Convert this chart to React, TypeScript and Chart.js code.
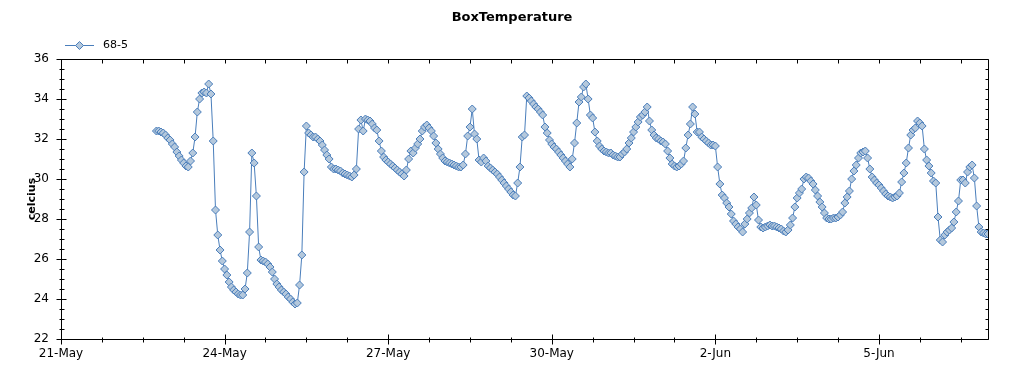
import React, { useEffect, useRef } from 'react';
import { Chart, registerables } from 'chart.js';

Chart.register(...registerables);

// ---------- text ----------
const TITLE = 'BoxTemperature';
const SERIES_NAME = '68-5';
const Y_TITLE = 'celcius';
const MONTHS = ['Jan', 'Feb', 'Mar', 'Apr', 'May', 'Jun', 'Jul', 'Aug', 'Sep', 'Oct', 'Nov', 'Dec'];

// ---------- axes ----------
const HOUR = 3600000;
const DAY = 24 * HOUR;
const AXIS_START = Date.UTC(2013, 4, 21);
const AXIS_END = Date.UTC(2013, 5, 7);
const MAJOR_TICK_DAYS = [0, 3, 6, 9, 12, 15];
const MINOR_TICK_HOURS = 18;
const Y_MIN = 22;
const Y_MAX = 36;
const Y_STEP = 2;
const Y_MINOR = 0.5;

// ---------- hourly readings (first reading 22-May 18:00) ----------
const FIRST_READING = Date.UTC(2013, 4, 22, 18);
const may22 = [32.4, 32.4, 32.35, 32.3, 32.2, 32.05];
const may23 = [31.95, 31.75, 31.6, 31.35, 31.15, 30.95, 30.8, 30.65, 30.6, 30.9, 31.3, 32.1,
  33.35, 34.0, 34.3, 34.35, 34.3, 34.75, 34.25, 31.9, 28.45, 27.2, 26.45, 25.9];
const may24 = [25.5, 25.2, 24.85, 24.6, 24.45, 24.35, 24.25, 24.2, 24.2, 24.5, 25.3, 27.35,
  31.3, 30.8, 29.15, 26.6, 25.95, 25.9, 25.85, 25.75, 25.6, 25.35, 25.0, 24.75];
const may25 = [24.6, 24.45, 24.35, 24.25, 24.1, 24.0, 23.85, 23.75, 23.8, 24.7, 26.2, 30.35,
  32.65, 32.3, 32.2, 32.1, 32.1, 32.0, 31.9, 31.7, 31.45, 31.2, 31.0, 30.6];
const may26 = [30.5, 30.5, 30.45, 30.4, 30.3, 30.25, 30.2, 30.15, 30.1, 30.2, 30.5, 32.5,
  32.95, 32.4, 33.0, 32.95, 32.9, 32.75, 32.55, 32.45, 31.9, 31.4, 31.1, 30.95];
const may27 = [30.85, 30.75, 30.65, 30.55, 30.45, 30.35, 30.25, 30.15, 30.45, 31.0, 31.4, 31.3,
  31.55, 31.75, 32.0, 32.4, 32.6, 32.7, 32.55, 32.4, 32.15, 31.8, 31.5, 31.25];
const may28 = [31.05, 30.9, 30.85, 30.8, 30.75, 30.7, 30.65, 30.6, 30.6, 30.7, 31.25, 32.15,
  32.6, 33.5, 32.25, 32.0, 30.95, 30.85, 31.05, 30.9, 30.65, 30.55, 30.45, 30.35];
const may29 = [30.25, 30.1, 29.95, 29.8, 29.65, 29.5, 29.35, 29.2, 29.15, 29.8, 30.6, 32.1,
  32.2, 34.15, 34.05, 33.9, 33.75, 33.6, 33.5, 33.35, 33.2, 32.6, 32.3, 31.95];
const may30 = [31.75, 31.6, 31.5, 31.35, 31.2, 31.05, 30.9, 30.75, 30.6, 31.0, 31.8, 32.8,
  33.85, 34.1, 34.6, 34.75, 34.0, 33.2, 33.05, 32.35, 31.9, 31.65, 31.5, 31.4];
const may31 = [31.35, 31.3, 31.3, 31.2, 31.15, 31.1, 31.1, 31.25, 31.35, 31.5, 31.8, 32.05,
  32.35, 32.6, 32.85, 33.1, 33.2, 33.35, 33.6, 32.9, 32.45, 32.2, 32.05, 32.0];
const jun1 = [31.9, 31.85, 31.75, 31.4, 31.05, 30.75, 30.65, 30.6, 30.65, 30.75, 30.9, 31.55,
  32.2, 32.75, 33.6, 33.25, 32.35, 32.35, 32.1, 32.0, 31.9, 31.8, 31.7, 31.7];
const jun2 = [31.65, 30.6, 29.75, 29.2, 29.05, 28.8, 28.6, 28.25, 27.9, 27.75, 27.6, 27.5,
  27.35, 27.75, 28.0, 28.3, 28.55, 29.1, 28.7, 27.95, 27.6, 27.55, 27.6, 27.65];
const jun3 = [27.7, 27.65, 27.65, 27.6, 27.55, 27.5, 27.4, 27.35, 27.45, 27.7, 28.05, 28.6,
  29.05, 29.3, 29.5, 30.0, 30.1, 30.05, 29.9, 29.75, 29.45, 29.15, 28.85, 28.6];
const jun4 = [28.3, 28.05, 28.0, 28.0, 28.05, 28.05, 28.1, 28.2, 28.35, 28.8, 29.1, 29.4,
  30.0, 30.4, 30.7, 31.05, 31.3, 31.35, 31.4, 31.05, 30.5, 30.1, 29.95, 29.8];
const jun5 = [29.7, 29.55, 29.4, 29.25, 29.15, 29.1, 29.05, 29.1, 29.15, 29.3, 29.85, 30.3,
  30.8, 31.55, 32.2, 32.45, 32.55, 32.9, 32.8, 32.65, 31.5, 30.95, 30.65, 30.3];
const jun6 = [29.9, 29.8, 28.1, 26.95, 26.85, 27.2, 27.35, 27.45, 27.55, 27.85, 28.35, 28.9,
  29.95, 29.95, 29.8, 30.35, 30.6, 30.7, 30.05, 28.65, 27.6, 27.35, 27.3, 27.25];
const jun7 = [27.25];

const seriesValues = [
  ...may22, ...may23, ...may24, ...may25, ...may26, ...may27, ...may28, ...may29,
  ...may30, ...may31, ...jun1, ...jun2, ...jun3, ...jun4, ...jun5, ...jun6, ...jun7,
];

// ---------- style ----------
const FONT = "'DejaVu Sans', sans-serif";
const LINE_COLOR = '#4a7ebb';
const MARKER_FILL = '#b4c8dc';

const fmtDate = (v: number) => {
  const d = new Date(v);
  return `${d.getUTCDate()}-${MONTHS[d.getUTCMonth()]}`;
};

const drawDiamond = (ctx: CanvasRenderingContext2D, x: number, y: number, r: number) => {
  ctx.beginPath();
  ctx.moveTo(x, y - r);
  ctx.lineTo(x + r, y);
  ctx.lineTo(x, y + r);
  ctx.lineTo(x - r, y);
  ctx.closePath();
  ctx.fillStyle = MARKER_FILL;
  ctx.fill();
  ctx.strokeStyle = LINE_COLOR;
  ctx.lineWidth = 1;
  ctx.stroke();
};

const framePlugin = {
  id: 'frameTicks',
  afterDraw(chart: any) {
    const { ctx, chartArea } = chart;
    const xs = chart.scales.x;
    const ys = chart.scales.y;
    const L = Math.floor(chartArea.left) + 0.5;
    const R = Math.floor(chartArea.right) + 0.5;
    const T = Math.floor(chartArea.top) + 0.5;
    const B = Math.floor(chartArea.bottom) + 0.5;
    ctx.save();
    ctx.strokeStyle = '#000';
    ctx.lineWidth = 1;
    ctx.beginPath();
    ctx.rect(L, T, R - L, B - T);
    // y ticks
    for (let v = Y_MIN; v <= Y_MAX + 1e-9; v += Y_MINOR) {
      const py = Math.round(ys.getPixelForValue(v)) + 0.5;
      const major = Math.abs((v - Y_MIN) / Y_STEP - Math.round((v - Y_MIN) / Y_STEP)) < 1e-6;
      if (major) {
        ctx.moveTo(L - 5, py); ctx.lineTo(L + 5, py);
      } else {
        ctx.moveTo(L - 2, py); ctx.lineTo(L + 3, py);
      }
      ctx.moveTo(R - 3, py); ctx.lineTo(R, py);
    }
    // x ticks
    for (let t = AXIS_START; t <= AXIS_END; t += MINOR_TICK_HOURS * HOUR) {
      const px = Math.round(xs.getPixelForValue(t)) + 0.5;
      const major = ((t - AXIS_START) / DAY) % 3 === 0;
      if (major) {
        ctx.moveTo(px, B - 5); ctx.lineTo(px, B + 5);
      } else {
        ctx.moveTo(px, B - 2); ctx.lineTo(px, B + 3);
      }
      ctx.moveTo(px, T); ctx.lineTo(px, T + 4);
    }
    ctx.stroke();

    // legend
    const ly = 45.5;
    ctx.beginPath();
    ctx.strokeStyle = LINE_COLOR;
    ctx.moveTo(65, ly);
    ctx.lineTo(94, ly);
    ctx.stroke();
    drawDiamond(ctx, 79.5, ly, 4);
    ctx.fillStyle = '#000';
    ctx.font = `11px ${FONT}`;
    ctx.textAlign = 'left';
    ctx.textBaseline = 'middle';
    ctx.fillText(SERIES_NAME, 103, ly);
    ctx.restore();
  },
};

export default function App() {
  const ref = useRef<HTMLCanvasElement | null>(null);

  useEffect(() => {
    document.body.style.margin = '0';
    const canvas = ref.current;
    if (!canvas) return;
    const points = seriesValues.map((v, i) => ({ x: FIRST_READING + i * HOUR, y: v }));
    const majorTicks = MAJOR_TICK_DAYS.map((d) => AXIS_START + d * DAY);
    const tickFont = { family: FONT, size: 12 };

    const chart = new Chart(canvas, {
      type: 'line',
      data: {
        datasets: [
          {
            label: SERIES_NAME,
            data: points,
            borderColor: LINE_COLOR,
            backgroundColor: MARKER_FILL,
            borderWidth: 1,
            pointStyle: 'rectRot',
            pointRadius: 4,
            pointBorderWidth: 1,
            pointBackgroundColor: MARKER_FILL,
            pointBorderColor: LINE_COLOR,
            tension: 0,
          },
        ],
      },
      options: {
        responsive: false,
        animation: false,
        devicePixelRatio: 1,
        events: [],
        layout: { padding: 0 },
        plugins: {
          legend: { display: false },
          tooltip: { enabled: false },
          title: {
            display: true,
            text: TITLE,
            color: '#000',
            font: { family: FONT, size: 13, weight: 'bold', lineHeight: 16 / 13 },
            padding: { top: 10, bottom: 33 },
          },
        },
        scales: {
          x: {
            type: 'linear',
            min: AXIS_START,
            max: AXIS_END,
            grid: { display: false, drawTicks: false },
            border: { display: false },
            afterBuildTicks: (s: any) => {
              s.ticks = majorTicks.map((value) => ({ value }));
            },
            afterFit: (s: any) => {
              s.height = 36;
            },
            ticks: {
              autoSkip: false,
              maxRotation: 0,
              minRotation: 0,
              padding: 8,
              color: '#000',
              font: tickFont,
              callback: (v: any) => fmtDate(Number(v)),
            },
          },
          y: {
            type: 'linear',
            min: Y_MIN,
            max: Y_MAX,
            grid: { display: false, drawTicks: false },
            border: { display: false },
            afterFit: (s: any) => {
              s.width = 61;
            },
            ticks: { stepSize: Y_STEP, padding: 12, color: '#000', font: tickFont },
            title: {
              display: true,
              text: Y_TITLE,
              color: '#000',
              font: { family: FONT, size: 11, weight: 'bold' },
              padding: { top: 26, bottom: 0 },
            },
          },
          yr: {
            type: 'linear',
            position: 'right',
            display: true,
            grid: { display: false, drawTicks: false },
            border: { display: false },
            ticks: { display: false },
            afterFit: (s: any) => {
              s.width = 36;
            },
          },
        },
      } as any,
      plugins: [framePlugin],
    });
    return () => chart.destroy();
  }, []);

  return (
    <div style={{ width: 1024, height: 375 }}>
      <canvas ref={ref} width={1024} height={375} style={{ display: 'block' }} />
    </div>
  );
}
